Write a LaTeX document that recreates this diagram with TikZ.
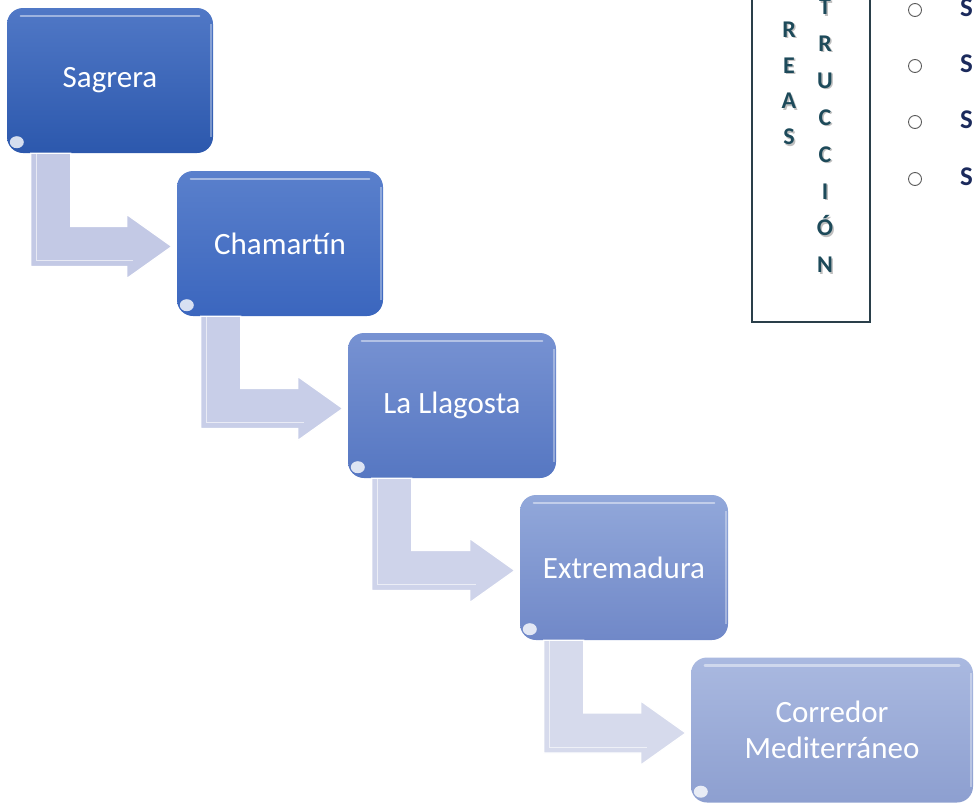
\documentclass[tikz,border=0pt]{standalone}
\usepackage{fontspec}
\setmainfont{Carlito}
\usetikzlibrary{calc}

\definecolor{boxAtop}{HTML}{5078C6}
\definecolor{boxAbot}{HTML}{2C58AD}
\definecolor{boxBtop}{HTML}{5A80CC}
\definecolor{boxBbot}{HTML}{3B66BE}
\definecolor{boxCtop}{HTML}{7792D2}
\definecolor{boxCbot}{HTML}{5677C2}
\definecolor{boxDtop}{HTML}{92A8DA}
\definecolor{boxDbot}{HTML}{7088C8}
\definecolor{boxEtop}{HTML}{AAB9E0}
\definecolor{boxEbot}{HTML}{8D9FD0}
\definecolor{arrowA}{HTML}{C3C9E5}
\definecolor{arrowB}{HTML}{C8CEE8}
\definecolor{arrowC}{HTML}{CED3EA}
\definecolor{arrowD}{HTML}{D6DAEC}
\definecolor{tealtext}{HTML}{1D4A5A}
\definecolor{frameline}{HTML}{2A3F4A}
\definecolor{navytext}{HTML}{1B2A5C}

\tikzset{
  stage/.style 2 args={rounded corners=16pt, minimum width=206pt, minimum height=145pt,
    text=white, align=center, font=\fontsize{31}{36}\selectfont,
    top color=#1, bottom color=#2, draw=none},
  flowarrow/.style={fill=#1, draw=white, line width=1.2pt, line join=miter},
  gloss/.style={white, opacity=.45, line width=2.5pt, line cap=round},
  vletter/.style={text=tealtext, font=\fontsize{24}{24}\selectfont\bfseries,
    text height=15pt, text depth=0pt, inner sep=0pt},
  vshadow/.style={vletter, text=black, text opacity=.25},
  bulletring/.style={circle, draw=black!65, line width=.9pt, minimum size=13pt, inner sep=0pt},
  bullettext/.style={text=navytext, font=\fontsize{27}{27}\selectfont\bfseries,
    anchor=west, text height=17pt, text depth=0pt, inner sep=0pt}
}

% bent arrow from the bottom of one stage to the left side of the next
\newcommand{\bentarrow}[3]{%
  \path ($(#2.west)+(-5,3)$) coordinate (#1tip);
  \filldraw[flowarrow=#3] ($(#1.south west)+(24,0)$) -- ($(#1.south west)+(64,0)$)
    |- ($(#1tip)+(-45,-20)$) -- ($(#1tip)+(-45,-32)$) -- (#1tip)
    -- ($(#1tip)+(-45,32)$) -- ($(#1tip)+(-45,20)$)
    -| ($(#1.south west)+(24,0)$) -- cycle;
  \draw[white, opacity=.6, line width=.8pt] ($(#1.south west)+(30,0)$) |- ($(#1tip)+(-39,14)$);
}

\begin{document}
\begin{tikzpicture}[x=1pt, y=-1pt]
  \useasboundingbox (0,0) rectangle (974,806);
  \clip (0,0) rectangle (974,806);

  % stages
  \node[stage={boxAtop}{boxAbot}] (sagrera) at (110,80.5) {Sagrera};
  \node[stage={boxBtop}{boxBbot}] (chamartin) at (280,243.5) {Chamartín};
  \node[stage={boxCtop}{boxCbot}, minimum width=208pt] (llagosta) at (452,405.5) {La Llagosta};
  \node[stage={boxDtop}{boxDbot}, minimum width=208pt] (extremadura) at (624,567.5) {Extremadura};
  \node[stage={boxEtop}{boxEbot}, minimum width=282pt] (corredor) at (832,730) {Corredor\\Mediterráneo};

  \foreach \n in {sagrera, chamartin, llagosta, extremadura, corredor} {
    \draw[gloss] ($(\n.north west)+(14,8)$) -- ($(\n.north east)+(-14,8)$);
    \draw[white, opacity=.35, line width=1.5pt] ($(\n.north east)+(-2,16)$) -- ($(\n.south east)+(-2,-16)$);
    \fill[white, opacity=.8] ($(\n.south west)+(10,-11)$) ellipse (7 and 6);
  }

  % arrows
  \bentarrow{sagrera}{chamartin}{arrowA}
  \bentarrow{chamartin}{llagosta}{arrowB}
  \bentarrow{llagosta}{extremadura}{arrowC}
  \bentarrow{extremadura}{corredor}{arrowD}

  % framed vertical words
  \draw[frameline, line width=1.8pt] (752,-5) rectangle (870,322);
  \foreach \ch/\y [count=\i] in {Á/-9,R/29.8,E/65.6,A/101.4,S/137.2} {
    \node[vshadow] at (790.5,\y+1.5) {\ch};
    \node[vletter] (areas\i) at (789,\y) {\ch};
  }
  \foreach \ch [count=\i] in {T,R,U,C,C,I,Ó,N} {
    \node[vshadow] at (826.5,{8.5+36.9*(\i-1)}) {\ch};
    \node[vletter] (constr\i) at (825,{7+36.9*(\i-1)}) {\ch};
  }

  % bullets
  \foreach \y [count=\i] in {10,66,122,179} {
    \node[bulletring] (ring\i) at (915,\y) {};
    \node[bullettext] (item\i) at (960,\y-2.5) {S};
  }
\end{tikzpicture}
\end{document}
